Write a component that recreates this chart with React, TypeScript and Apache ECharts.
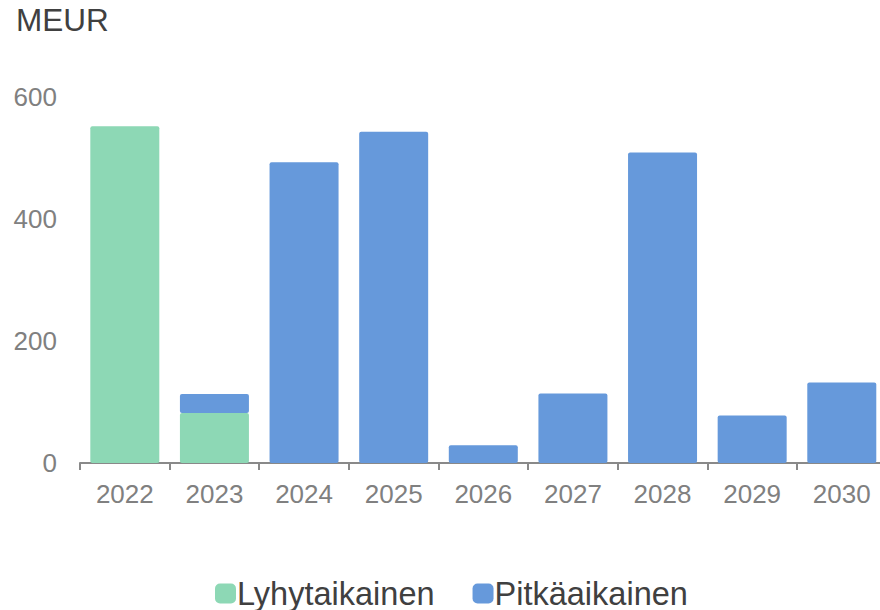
import React, { useEffect, useRef } from "react";
import * as echarts from "echarts";

const years = ["2022", "2023", "2024", "2025", "2026", "2027", "2028", "2029", "2030"];
const lyhytaikainen = [552, 82, 0, 0, 0, 0, 0, 0, 0];
const pitkaaikainen = [0, 31, 493, 543, 29, 114, 509, 78, 132];
const yTicks = [0, 200, 400, 600];

export default function App() {
  const ref = useRef<HTMLDivElement>(null);
  useEffect(() => {
    if (!ref.current) return;
    const chart = echarts.init(ref.current, null, { renderer: "svg" });
    const font = "Liberation Sans, Arial, sans-serif";
    chart.setOption({
      animation: false,
      textStyle: { fontFamily: font },
      title: {
        text: "MEUR",
        left: 11,
        top: -1,
        textStyle: { fontSize: 31.5, fontWeight: "normal", color: "#404040", fontFamily: font },
      },
      legend: {
        left: 210,
        top: 572,
        itemWidth: 21,
        itemHeight: 20,
        itemGap: 38,
        icon: "roundRect",
        textStyle: { fontSize: 32.5, color: "#404040", fontFamily: font, padding: [0, 0, 0, -4] },
        data: ["Lyhytaikainen", "Pitkäaikainen"],
      },
      grid: { left: 80, top: 97, width: 806.6, height: 366, containLabel: false },
      xAxis: {
        type: "category",
        data: years,
        axisLine: { lineStyle: { color: "#898989", width: 2 } },
        axisTick: { show: true, length: 7, lineStyle: { color: "#898989", width: 2 } },
        axisLabel: { fontSize: 26, color: "#808080", margin: 18, fontFamily: font },
      },
      yAxis: {
        type: "value",
        min: yTicks[0],
        max: yTicks[yTicks.length - 1],
        interval: 200,
        splitLine: { show: false },
        axisLine: { show: false },
        axisTick: { show: false },
        axisLabel: { fontSize: 26, color: "#808080", margin: 23, fontFamily: font },
      },
      series: [
        {
          name: "Lyhytaikainen",
          type: "bar",
          stack: "total",
          barWidth: 69,
          data: lyhytaikainen.map((v) => (v === 0 ? null : v)),
          itemStyle: { color: "#8DD8B5", borderRadius: 2 },
        },
        {
          name: "Pitkäaikainen",
          type: "bar",
          stack: "total",
          barWidth: 69,
          data: pitkaaikainen.map((v) => (v === 0 ? null : v)),
          itemStyle: { color: "#6699DB", borderRadius: 2 },
        },
      ],
    });
    return () => chart.dispose();
  }, []);
  return (
    <div
      ref={ref}
      style={{ position: "absolute", left: 0, top: 0, width: 890, height: 610 }}
    />
  );
}
